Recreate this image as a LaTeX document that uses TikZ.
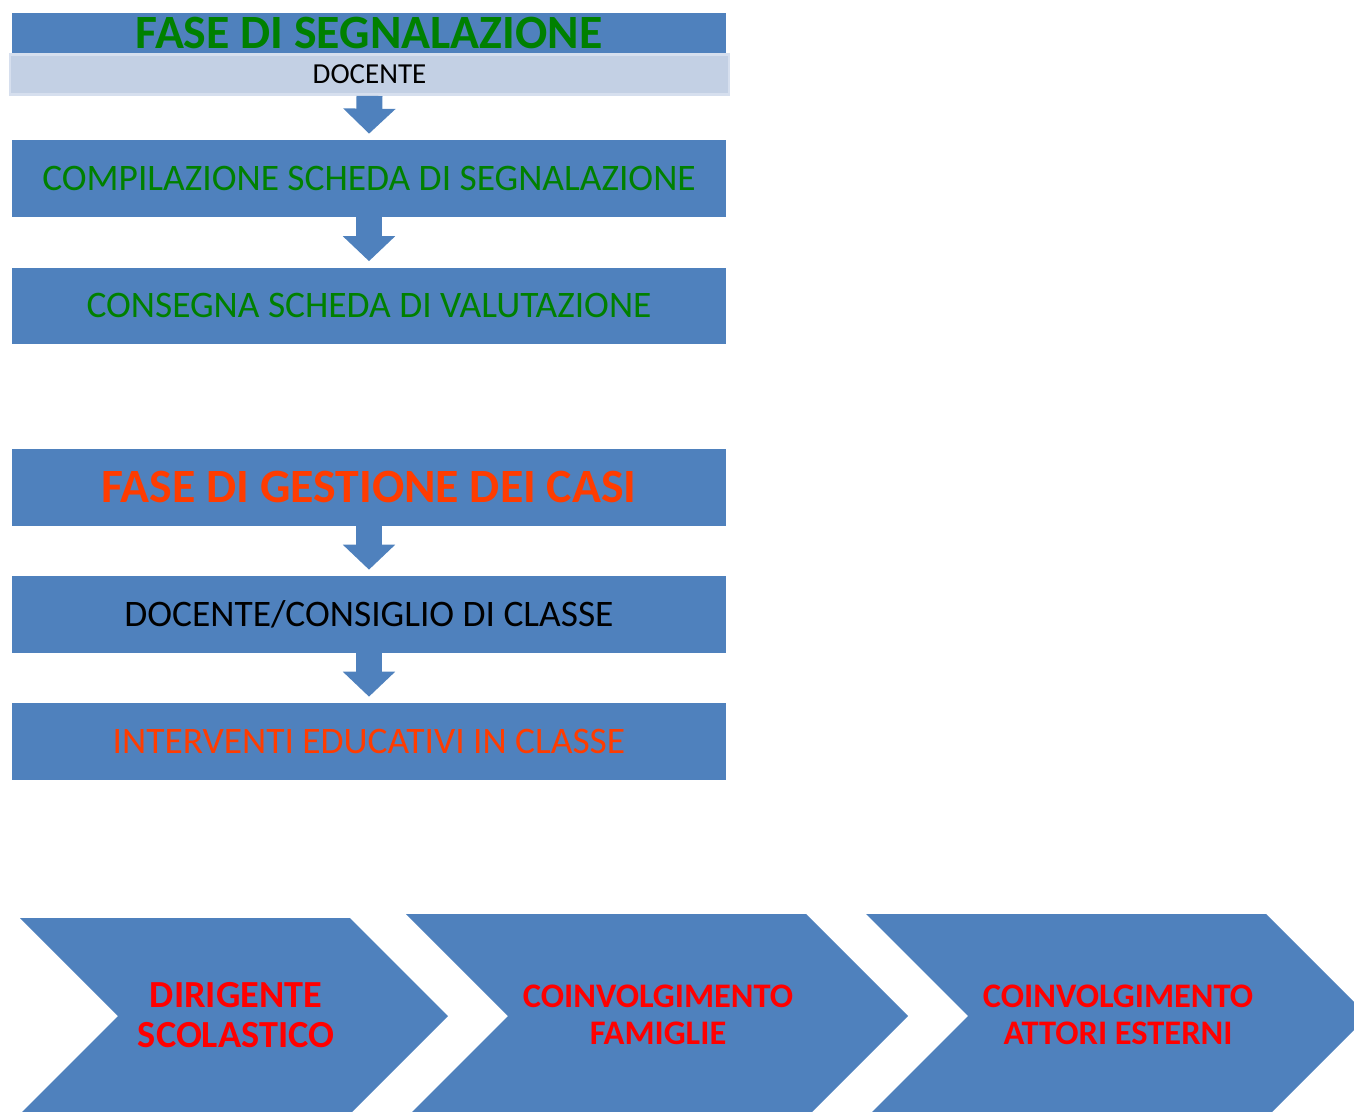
\documentclass[tikz,border=0pt]{standalone}
\usepackage{fontspec}
\setmainfont{Carlito}
\usetikzlibrary{arrows.meta,positioning}

\definecolor{boxblue}{HTML}{4F81BD}
\definecolor{lightbox}{HTML}{C3D0E4}
\definecolor{lightedge}{HTML}{D6DFEE}
\definecolor{phasegreen}{HTML}{008000}
\definecolor{phasered}{HTML}{FF3C00}
\definecolor{chevred}{HTML}{FF0000}

\begin{document}
\begin{tikzpicture}[x=0.02cm,y=-0.02cm,
    box/.style={fill=boxblue,minimum width=14.28cm,minimum height=1.54cm,inner sep=0pt,text depth=0pt},
    boxtext/.style={font=\fontsize{21.3}{25}\selectfont,text height=13.5pt},
    titletext/.style={font=\bfseries\fontsize{27.2}{32}\selectfont,text height=17.2pt},
    flowarrow/.style={boxblue,line width=0.52cm,-{Triangle[length=0.5cm,width=1.02cm]},shorten >=0.12cm},
    chevtext/.style={text=chevred,font=\bfseries\fontsize{19.6}{21}\selectfont,align=center}]
       \clip (0,0) rectangle (1354,1111);

       % fase di segnalazione
       \node[box,titletext,minimum height=0.82cm,text=phasegreen] (segnal) at (369,33.5) {FASE DI SEGNALAZIONE};
       \node[fill=lightbox,draw=lightedge,line width=1.6pt,minimum width=14.38cm,minimum height=0.8cm,inner sep=0pt,
             font=\fontsize{16.5}{20}\selectfont,text height=10.4pt,text depth=0pt] (docente) at (369.5,74.5) {DOCENTE};
       \node[box,boxtext,text=phasegreen] (compila) at (369,178.5) {COMPILAZIONE SCHEDA DI SEGNALAZIONE};
       \node[box,boxtext,text=phasegreen] (consegna) at (369,306) {CONSEGNA SCHEDA DI VALUTAZIONE};

       \draw[flowarrow] (docente.south) -- (compila.north);
       \draw[flowarrow] (compila.south) -- (consegna.north);

       % fase di gestione dei casi
       \node[box,titletext,text=phasered] (gestione) at (369,487.5) {FASE DI GESTIONE DEI CASI};
       \node[box,boxtext,text=black] (consiglio) at (369,614.5) {DOCENTE/CONSIGLIO DI CLASSE};
       \node[box,boxtext,text=phasered] (interventi) at (369,741.5) {INTERVENTI EDUCATIVI IN CLASSE};

       \draw[flowarrow] (gestione.south) -- (consiglio.north);
       \draw[flowarrow] (consiglio.south) -- (interventi.north);

       % chevrons
       \fill[boxblue] (20,918) -- (350,918) -- (448,1016) -- (350,1114) -- (20,1114) -- (118,1016) -- cycle;
       \fill[boxblue] (406,914) -- (806,914) -- (908,1016) -- (806,1118) -- (406,1118) -- (508,1016) -- cycle;
       \fill[boxblue] (866,914) -- (1266,914) -- (1368,1016) -- (1266,1118) -- (866,1118) -- (968,1016) -- cycle;

       \node[chevtext,font=\bfseries\fontsize{21.8}{23.2}\selectfont] (dirigente) at (236,1015) {DIRIGENTE\\SCOLASTICO};
       \node[chevtext] (famiglie) at (658,1015) {COINVOLGIMENTO\\FAMIGLIE};
       \node[chevtext] (attori) at (1118,1015) {COINVOLGIMENTO\\ATTORI ESTERNI};
      \end{tikzpicture}
\end{document}
